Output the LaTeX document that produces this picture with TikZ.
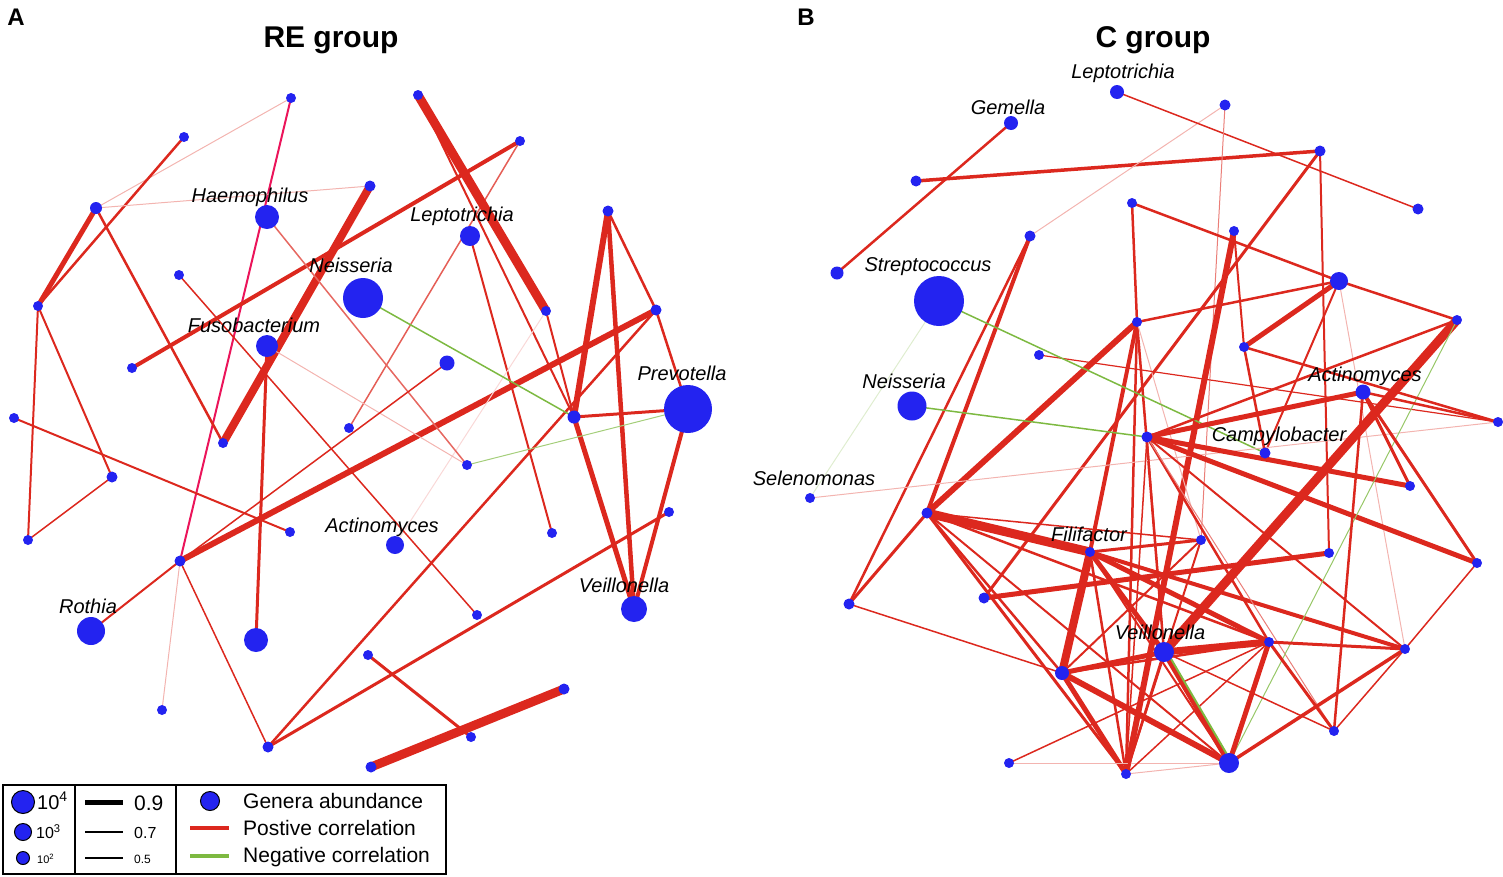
\documentclass[tikz,border=0pt]{standalone}
\usepackage{fontspec}
\setmainfont{Liberation Sans}
\pgfdeclarelayer{bg}
\pgfsetlayers{bg,main}
\definecolor{nodeblue}{RGB}{35,35,240}
\definecolor{pos}{RGB}{220,40,30}
\definecolor{neg}{RGB}{125,185,65}
\definecolor{mag}{RGB}{235,20,90}
\tikzset{
  nd/.style={circle,fill=nodeblue,inner sep=0pt,minimum size=#1},
  ed/.style={draw=pos,line width=#1},
  fa/.style={draw=pos!35,line width=1},
  ng/.style={draw=neg,line width=#1},
  lab/.style={font=\fontsize{20}{24}\selectfont\itshape,inner sep=0pt},
  ttl/.style={font=\fontsize{30}{34}\selectfont\bfseries,inner sep=0pt},
  pl/.style={font=\fontsize{24}{26}\selectfont\bfseries,inner sep=0pt},
  lt/.style={anchor=west,inner sep=0pt,font=\fontsize{21}{24}\selectfont},
  ldot/.style={circle,fill=nodeblue,draw=black,line width=1,inner sep=0pt,minimum size=#1}
}
\begin{document}
\begin{tikzpicture}[x=1pt,y=-1pt]
\useasboundingbox (0,0) rectangle (1503,876);
% titles
\node[pl] (pA) at (16,17) {A};
\node[pl] (pB) at (806,17) {B};
\node[ttl] (tA) at (331,40) {RE group};
\node[ttl] (tB) at (1153,40) {C group};
% ---------- panel A nodes ----------
\node[nd=10] (A1) at (291,98) {};
\node[nd=10] (A2) at (184,137) {};
\node[nd=12] (A3) at (96,208) {};
\node[nd=10] (A4) at (38,306) {};
\node[nd=24] (A5) at (267,217) {};
\node[nd=11] (A6) at (370,186) {};
\node[nd=10] (A7) at (418,95) {};
\node[nd=10] (A8) at (520,141) {};
\node[nd=20] (A9) at (470,236) {};
\node[nd=10] (A10) at (179,275) {};
\node[nd=40] (A11) at (363,298) {};
\node[nd=22] (A12) at (267,346) {};
\node[nd=10] (A13) at (132,368) {};
\node[nd=10] (A14) at (546,311) {};
\node[nd=11] (A15) at (608,211) {};
\node[nd=11] (A16) at (656,310) {};
\node[nd=15] (A17) at (447,363) {};
\node[nd=48] (A18) at (688,409) {};
\node[nd=13] (A19) at (574,417) {};
\node[nd=10] (A20) at (349,428) {};
\node[nd=10] (A21) at (223,443) {};
\node[nd=10] (A22) at (14,418) {};
\node[nd=11] (A23) at (112,477) {};
\node[nd=10] (A24) at (467,465) {};
\node[nd=10] (A25) at (28,540) {};
\node[nd=10] (A26) at (290,532) {};
\node[nd=10] (A27) at (552,533) {};
\node[nd=18] (A28) at (395,545) {};
\node[nd=10] (A29) at (669,512) {};
\node[nd=11] (A30) at (180,561) {};
\node[nd=26] (A31) at (634,609) {};
\node[nd=28] (A32) at (91,631) {};
\node[nd=24] (A33) at (256,640) {};
\node[nd=10] (A34) at (477,615) {};
\node[nd=10] (A35) at (368,655) {};
\node[nd=10] (A36) at (162,710) {};
\node[nd=11] (A37) at (268,747) {};
\node[nd=11] (A38) at (564,689) {};
\node[nd=10] (A39) at (471,737) {};
\node[nd=11] (A40) at (371,767) {};
% panel A labels
\node[lab] (lA5) at (250,197) {Haemophilus};
\node[lab] (lA9) at (462,216) {Leptotrichia};
\node[lab] (lA11) at (351,265) {Neisseria};
\node[lab] (lA12) at (254,325) {Fusobacterium};
\node[lab] (lA18) at (682,373) {Prevotella};
\node[lab] (lA28) at (382,527) {Actinomyces};
\node[lab] (lA31) at (624,585) {Veillonella};
\node[lab] (lA32) at (88,606) {Rothia};
% ---------- panel B nodes ----------
\node[nd=14] (B1) at (1117,92) {};
\node[nd=11] (B2) at (1225,105) {};
\node[nd=14] (B3) at (1011,123) {};
\node[nd=11] (B4) at (1320,151) {};
\node[nd=11] (B5) at (916,181) {};
\node[nd=11] (B6) at (1418,209) {};
\node[nd=10] (B7) at (1132,203) {};
\node[nd=10] (B8) at (1234,231) {};
\node[nd=11] (B9) at (1030,236) {};
\node[nd=13] (B10) at (837,273) {};
\node[nd=50] (B11) at (939,301) {};
\node[nd=18] (B12) at (1339,281) {};
\node[nd=10] (B13) at (1137,322) {};
\node[nd=10] (B14) at (1457,320) {};
\node[nd=10] (B15) at (1244,347) {};
\node[nd=10] (B16) at (1039,355) {};
\node[nd=29] (B17) at (912,406) {};
\node[nd=15] (B18) at (1363,392) {};
\node[nd=10] (B19) at (1498,422) {};
\node[nd=11] (B20) at (1147,437) {};
\node[nd=11] (B21) at (1265,453) {};
\node[nd=10] (B22) at (1410,486) {};
\node[nd=10] (B23) at (810,498) {};
\node[nd=11] (B24) at (927,513) {};
\node[nd=10] (B25) at (1090,552) {};
\node[nd=10] (B26) at (1201,540) {};
\node[nd=10] (B27) at (1329,553) {};
\node[nd=10] (B28) at (1477,563) {};
\node[nd=11] (B29) at (984,598) {};
\node[nd=11] (B30) at (849,604) {};
\node[nd=20] (B31) at (1164,652) {};
\node[nd=10] (B32) at (1269,642) {};
\node[nd=10] (B33) at (1405,649) {};
\node[nd=14] (B34) at (1062,673) {};
\node[nd=10] (B35) at (1334,731) {};
\node[nd=10] (B36) at (1009,763) {};
\node[nd=10] (B37) at (1126,774) {};
\node[nd=20] (B38) at (1229,763) {};
% panel B labels
\node[lab] (lB1) at (1123,73) {Leptotrichia};
\node[lab] (lB3) at (1008,107) {Gemella};
\node[lab] (lB11) at (928,267) {Streptococcus};
\node[lab] (lB17) at (904,381) {Neisseria};
\node[lab] (lB18) at (1365,376) {Actinomyces};
\node[lab] (lB21) at (1279,436) {Campylobacter};
\node[lab] (lB23) at (814,478) {Selenomonas};
\node[lab] (lB25) at (1089,534) {Filifactor};
\node[lab] (lB31) at (1160,632) {Veillonella};
% ---------- edges ----------
\begin{pgfonlayer}{bg}
% panel A
\draw[fa] (A1.center) -- (A3.center);
\draw[draw=mag,line width=2] (A1.center) -- (A30.center);
\draw[ed=2.5] (A2.center) -- (A4.center);
\draw[ed=5] (A3.center) -- (A4.center);
\draw[fa] (A3.center) -- (A6.center);
\draw[ed=2.5] (A3.center) -- (A21.center);
\draw[ed=2] (A4.center) -- (A25.center);
\draw[ed=2] (A4.center) -- (A23.center);
\draw[ed=1.5] (A23.center) -- (A25.center);
\draw[ed=2] (A22.center) -- (A26.center);
\draw[ed=8] (A6.center) -- (A21.center);
\draw[ed=4] (A8.center) -- (A13.center);
\draw[draw=pos!75,line width=1.5] (A8.center) -- (A20.center);
\draw[ed=9] (A7.center) -- (A14.center);
\draw[ed=2] (A7.center) -- (A19.center);
\draw[ed=2] (A9.center) -- (A27.center);
\draw[ed=6] (A15.center) -- (A19.center);
\draw[ed=4.5] (A15.center) -- (A31.center);
\draw[ed=2.5] (A15.center) -- (A16.center);
\draw[ed=2.5] (A16.center) -- (A18.center);
\draw[ed=6] (A16.center) -- (A30.center);
\draw[ed=2.5] (A16.center) -- (A37.center);
\draw[ed=3] (A18.center) -- (A19.center);
\draw[ed=4] (A18.center) -- (A31.center);
\draw[ed=5] (A19.center) -- (A31.center);
\draw[ed=2] (A14.center) -- (A19.center);
\draw[draw=pos!18,line width=1] (A14.center) -- (A28.center);
\draw[ng=1.5] (A11.center) -- (A19.center);
\draw[draw=neg!70,line width=1] (A18.center) -- (A24.center);
\draw[ed=1.5] (A10.center) -- (A34.center);
\draw[draw=pos!70,line width=1.5] (A5.center) -- (A24.center);
\draw[fa] (A12.center) -- (A24.center);
\draw[ed=3] (A12.center) -- (A33.center);
\draw[ed=1.5] (A17.center) -- (A30.center);
\draw[ed=2] (A30.center) -- (A32.center);
\draw[fa] (A30.center) -- (A36.center);
\draw[ed=1.5] (A30.center) -- (A37.center);
\draw[ed=3] (A29.center) -- (A37.center);
\draw[ed=3] (A35.center) -- (A39.center);
\draw[ed=9] (A38.center) -- (A40.center);
% panel B
\draw[ed=2.5] (B3.center) -- (B10.center);
\draw[ed=3.5] (B5.center) -- (B4.center);
\draw[fa] (B9.center) -- (B2.center);
\draw[ed=1.5] (B1.center) -- (B6.center);
\draw[draw=pos!60,line width=1] (B2.center) -- (B26.center);
\draw[ed=2] (B4.center) -- (B27.center);
\draw[ed=3] (B4.center) -- (B29.center);
\draw[ed=4] (B9.center) -- (B24.center);
\draw[ed=2.5] (B9.center) -- (B30.center);
\draw[ed=2.5] (B7.center) -- (B13.center);
\draw[ed=2.5] (B7.center) -- (B12.center);
\draw[ed=6] (B8.center) -- (B37.center);
\draw[ed=2] (B8.center) -- (B15.center);
\draw[ed=5] (B12.center) -- (B15.center);
\draw[ed=2.5] (B12.center) -- (B14.center);
\draw[ed=2.5] (B12.center) -- (B13.center);
\draw[ed=2] (B12.center) -- (B21.center);
\draw[fa] (B12.center) -- (B33.center);
\draw[ed=6] (B13.center) -- (B24.center);
\draw[ed=4] (B13.center) -- (B25.center);
\draw[ed=2.5] (B13.center) -- (B37.center);
\draw[ed=2.5] (B13.center) -- (B31.center);
\draw[fa] (B13.center) -- (B26.center);
\draw[ed=1.2] (B16.center) -- (B19.center);
\draw[ng=1.5] (B11.center) -- (B21.center);
\draw[draw=neg!25,line width=1] (B11.center) -- (B23.center);
\draw[ng=1.5] (B17.center) -- (B20.center);
\draw[fa] (B23.center) -- (B19.center);
\draw[ed=3] (B24.center) -- (B30.center);
\draw[ed=9] (B24.center) -- (B25.center);
\draw[ed=1.5] (B24.center) -- (B26.center);
\draw[ed=2.5] (B24.center) -- (B32.center);
\draw[ed=2.5] (B24.center) -- (B34.center);
\draw[ed=3] (B24.center) -- (B37.center);
\draw[ed=2] (B24.center) -- (B38.center);
\draw[ed=3] (B25.center) -- (B26.center);
\draw[ed=8] (B25.center) -- (B34.center);
\draw[ed=5] (B25.center) -- (B31.center);
\draw[ed=5] (B25.center) -- (B32.center);
\draw[ed=4] (B25.center) -- (B33.center);
\draw[ed=2.5] (B25.center) -- (B37.center);
\draw[ed=2] (B25.center) -- (B38.center);
\draw[ed=5] (B20.center) -- (B18.center);
\draw[ed=5] (B20.center) -- (B22.center);
\draw[ed=5] (B20.center) -- (B28.center);
\draw[ed=2.5] (B20.center) -- (B14.center);
\draw[ed=2.5] (B20.center) -- (B32.center);
\draw[ed=1.5] (B20.center) -- (B31.center);
\draw[ed=2] (B20.center) -- (B33.center);
\draw[draw=pos!60,line width=1] (B20.center) -- (B35.center);
\draw[ed=1.5] (B20.center) -- (B37.center);
\draw[ed=9] (B14.center) -- (B31.center);
\draw[draw=neg!80,line width=1] (B14.center) -- (B38.center);
\draw[ed=2.5] (B15.center) -- (B21.center);
\draw[ed=2.5] (B15.center) -- (B19.center);
\draw[ed=2.5] (B18.center) -- (B19.center);
\draw[ed=3] (B18.center) -- (B28.center);
\draw[ed=3] (B18.center) -- (B22.center);
\draw[ed=2.5] (B18.center) -- (B35.center);
\draw[ed=5] (B29.center) -- (B27.center);
\draw[ed=1.5] (B30.center) -- (B34.center);
\draw[ed=5] (B34.center) -- (B31.center);
\draw[ed=5] (B34.center) -- (B37.center);
\draw[ed=6] (B34.center) -- (B38.center);
\draw[ed=2] (B34.center) -- (B26.center);
\draw[ed=2.5] (B34.center) -- (B32.center);
\draw[ed=1.5] (B36.center) -- (B32.center);
\draw[fa] (B36.center) -- (B38.center);
\draw[fa] (B37.center) -- (B38.center);
\draw[ed=1.5] (B37.center) -- (B32.center);
\draw[ed=2] (B26.center) -- (B37.center);
\draw[ed=7] (B32.center) -- (B31.center);
\draw[ed=3] (B32.center) -- (B33.center);
\draw[ed=3] (B32.center) -- (B35.center);
\draw[ed=5] (B32.center) -- (B38.center);
\draw[ed=1.5] (B33.center) -- (B28.center);
\draw[ed=1.5] (B33.center) -- (B35.center);
\draw[ed=3.5] (B33.center) -- (B38.center);
\draw[ed=5] (B31.center) -- (B38.center);
\draw[ng=2] ([xshift=3pt]B31.center) -- ([xshift=3pt]B38.center);
\draw[ed=1.5] (B31.center) -- (B35.center);
\draw[ed=2.5] (B31.center) -- (B37.center);
\end{pgfonlayer}
% ---------- legend ----------
\draw[line width=1.5] (3,785) rectangle (446,874);
\draw[line width=1.5] (75,785) -- (75,874);
\draw[line width=1.5] (176,785) -- (176,874);
\node[ldot=23] (L1) at (23,802) {};
\node[ldot=17] (L2) at (23,832) {};
\node[ldot=13] (L3) at (23,858) {};
\node[anchor=west,inner sep=0pt,font=\fontsize{20}{22}\selectfont] (L1t) at (37,801) {10\textsuperscript{4}};
\node[anchor=west,inner sep=0pt,font=\fontsize{16}{18}\selectfont] (L2t) at (36,832) {10\textsuperscript{3}};
\node[anchor=west,inner sep=0pt,font=\fontsize{11}{13}\selectfont] (L3t) at (37,859) {10\textsuperscript{2}};
\coordinate (k1a) at (85,802); \coordinate (k1b) at (123,802);
\coordinate (k2a) at (85,832); \coordinate (k2b) at (123,832);
\coordinate (k3a) at (85,858); \coordinate (k3b) at (123,858);
\draw[line width=5] (k1a) -- (k1b);
\draw[line width=2.5] (k2a) -- (k2b);
\draw[line width=2] (k3a) -- (k3b);
\node[anchor=west,inner sep=0pt,font=\fontsize{21}{22}\selectfont] (K1t) at (134,803) {0.9};
\node[anchor=west,inner sep=0pt,font=\fontsize{16}{18}\selectfont] (K2t) at (134,833) {0.7};
\node[anchor=west,inner sep=0pt,font=\fontsize{12}{14}\selectfont] (K3t) at (134,859) {0.5};
\node[ldot=19] (G1) at (210,801) {};
\coordinate (r1a) at (190,828); \coordinate (r1b) at (229,828);
\coordinate (g1a) at (190,856); \coordinate (g1b) at (229,856);
\draw[draw=pos,line width=4] (r1a) -- (r1b);
\draw[draw=neg,line width=4] (g1a) -- (g1b);
\node[lt] (G1t) at (243,801) {Genera abundance};
\node[lt] (R1t) at (243,828) {Postive correlation};
\node[lt] (N1t) at (243,857) {Negative correlation};
\end{tikzpicture}
\end{document}
